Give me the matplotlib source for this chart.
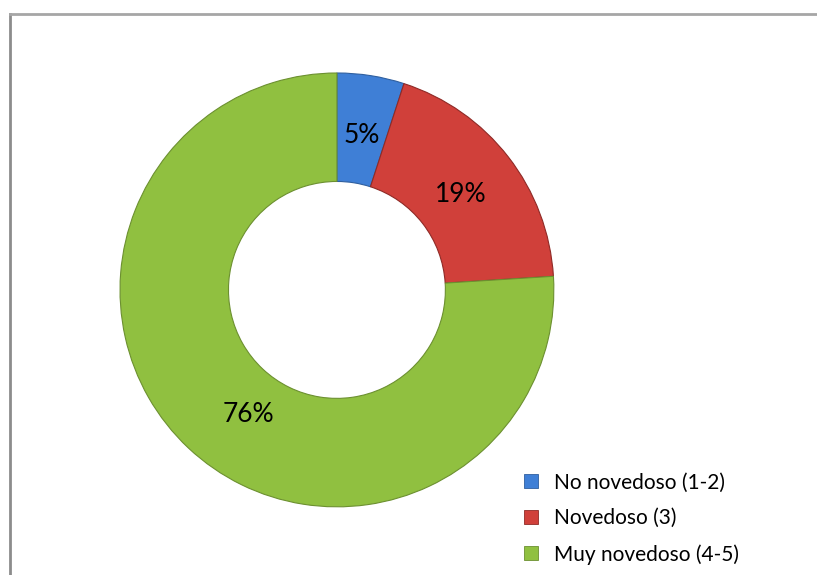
import numpy as np
import matplotlib.pyplot as plt
from matplotlib.lines import Line2D
from matplotlib.patches import Patch

# Survey responses: how novel the proposal was perceived
categories = ['No novedoso (1-2)', 'Novedoso (3)', 'Muy novedoso (4-5)']
shares = [5, 19, 76]
colors = ['#3F7FD6', '#D0403A', '#90C040']
edge_colors = ['#2F5F9F', '#8F2A26', '#6C9030']

plt.rcParams['font.family'] = ['Lato', 'DejaVu Sans']

fig = plt.figure(figsize=(8.17, 5.75), dpi=100)

# chart frame (left and top edges visible)
fig.add_artist(Line2D([9.5 / 817, 9.5 / 817], [0, 1 - 13.5 / 575],
                      transform=fig.transFigure, color='#8C8C8C', lw=2))
fig.add_artist(Line2D([9.5 / 817, 1], [1 - 13.5 / 575, 1 - 13.5 / 575],
                      transform=fig.transFigure, color='#A6A6A6', lw=2))

ax = fig.add_axes([0.1469, 0.1183, 0.531, 0.755])
wedges, texts, autotexts = ax.pie(
    shares,
    colors=colors,
    startangle=90,
    counterclock=False,
    autopct='%d%%',
    pctdistance=0.72,
    radius=1.0,
    wedgeprops=dict(width=0.5, linewidth=1, edgecolor='white'),
    textprops=dict(fontsize=19, color='black'),
)
for w, ec in zip(wedges, edge_colors):
    w.set_edgecolor(ec)
    w.set_linewidth(0.8)

# the large slice label sits a little further round the ring
ang = np.deg2rad(234.5)
autotexts[2].set_position((0.705 * np.cos(ang), 0.705 * np.sin(ang)))

ax.set_aspect('equal')
ax.set_xlim(-1.0, 1.0)
ax.set_ylim(-1.0, 1.0)
ax.axis('off')

handles = [Patch(facecolor=c, edgecolor=ec, linewidth=0.6)
           for c, ec in zip(colors, edge_colors)]
fig.legend(handles, categories, loc='upper left',
           bbox_to_anchor=(514 / 817, 1 - 462 / 575),
           frameon=False, fontsize=15,
           handlelength=0.65, handleheight=0.65, handletextpad=0.75,
           labelspacing=0.76, borderpad=0)

fig.savefig('out.png', dpi=100, facecolor='white')
